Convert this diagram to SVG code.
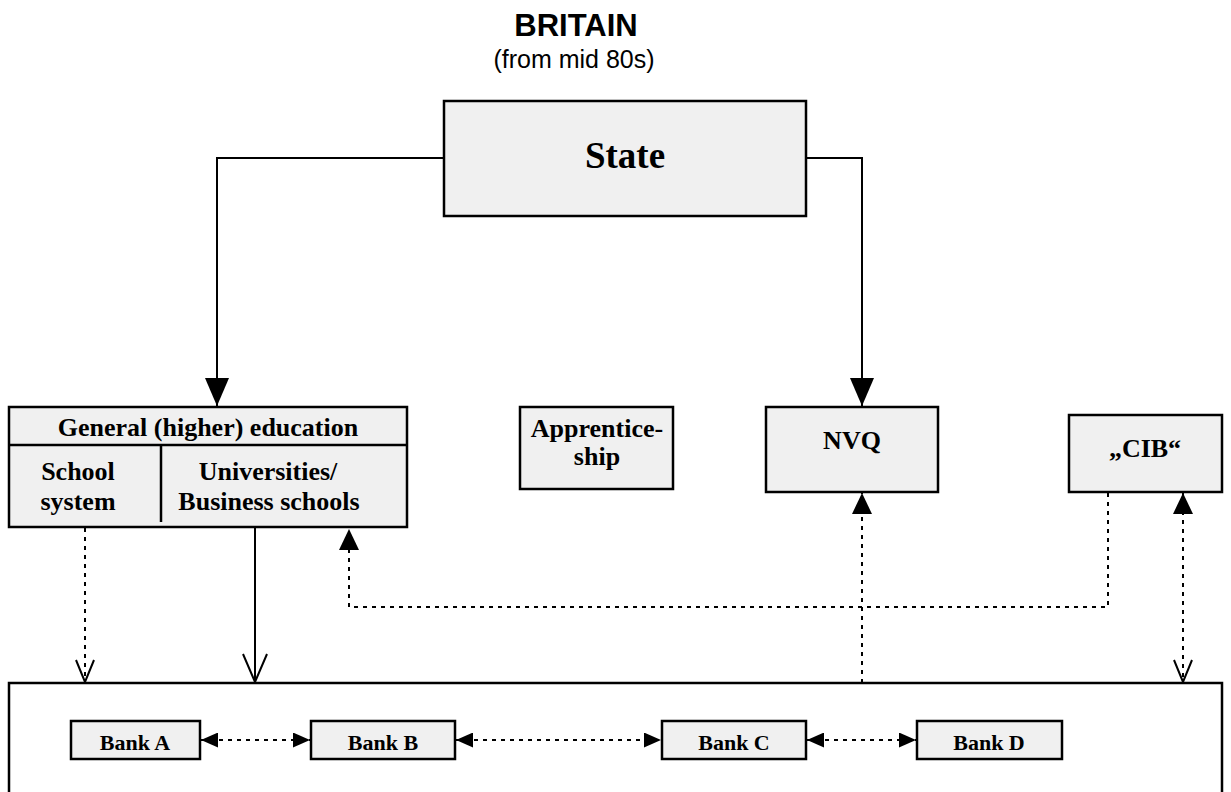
<svg xmlns="http://www.w3.org/2000/svg" width="1231" height="792" viewBox="0 0 1231 792">
<style>
.box{fill:#f0f0f0;stroke:#000;stroke-width:2.5}
.frame{fill:#fff;stroke:#000;stroke-width:2.5}
.t{font-family:"Liberation Serif","Times New Roman",serif;font-weight:bold;font-size:26px;text-anchor:middle;fill:#000}
.bk{font-size:22px}
.big{font-size:37px}
.solid{fill:none;stroke:#000;stroke-width:2}
.dot{fill:none;stroke:#000;stroke-width:2;stroke-dasharray:4 5}
.h{font-family:"Liberation Sans",Arial,sans-serif;text-anchor:middle;fill:#000}
</style>
<defs>
<marker id="bigFill" markerUnits="userSpaceOnUse" markerWidth="30" markerHeight="24" viewBox="0 0 28 24" refX="28" refY="12" orient="auto"><path d="M0,0 L28,12 L0,24 z" fill="#000"/></marker>
<marker id="fill" markerUnits="userSpaceOnUse" markerWidth="22" markerHeight="20" viewBox="0 0 21 20" refX="21" refY="10" orient="auto"><path d="M0,0 L21,10 L0,20 z" fill="#000"/></marker>
<marker id="fillStart" markerUnits="userSpaceOnUse" markerWidth="22" markerHeight="20" viewBox="0 0 21 20" refX="0" refY="10" orient="auto"><path d="M21,0 L0,10 L21,20 z" fill="#000"/></marker>
<marker id="small" markerUnits="userSpaceOnUse" markerWidth="18" markerHeight="15" viewBox="0 0 17 15" refX="17" refY="7.5" orient="auto"><path d="M0,0 L17,7.5 L0,15 z" fill="#000"/></marker>
<marker id="smallStart" markerUnits="userSpaceOnUse" markerWidth="18" markerHeight="15" viewBox="0 0 17 15" refX="0" refY="7.5" orient="auto"><path d="M17,0 L0,7.5 L17,15 z" fill="#000"/></marker>
<marker id="openV" markerUnits="userSpaceOnUse" markerWidth="26" markerHeight="22" viewBox="-2 -2 26 22" refX="22" refY="9" orient="auto"><path d="M0,0 L22,9 L0,18" fill="none" stroke="#000" stroke-width="2"/></marker>
<marker id="openVBig" markerUnits="userSpaceOnUse" markerWidth="32" markerHeight="28" viewBox="-2 -2 32 28" refX="28" refY="12" orient="auto"><path d="M0,0 L28,12 L0,24" fill="none" stroke="#000" stroke-width="2"/></marker>
</defs>

<g id="title">
<text class="h" x="576" y="36" font-size="31" font-weight="bold">BRITAIN</text>
<text class="h" x="574" y="68" font-size="25">(from mid 80s)</text>
</g>

<g id="banks-frame">
<rect class="frame" x="9" y="683" width="1213" height="200"/>
</g>

<g id="connectors">
<path class="solid" d="M444,158 H217 V406" marker-end="url(#bigFill)"/>
<path class="solid" d="M806,158 H862 V406" marker-end="url(#bigFill)"/>
<path class="dot" d="M85,528 V682" marker-end="url(#openV)"/>
<path class="solid" d="M255,528 V682" marker-end="url(#openVBig)"/>
<path class="dot" d="M862,683 V493" marker-end="url(#fill)"/>
<path class="dot" d="M1108,493 V607 H349 V529" marker-end="url(#fill)"/>
<path class="dot" d="M1183,493 V682" marker-start="url(#fillStart)" marker-end="url(#openV)"/>
<path class="dot" d="M201,740 H310" marker-start="url(#smallStart)" marker-end="url(#small)"/>
<path class="dot" d="M456,740 H661" marker-start="url(#smallStart)" marker-end="url(#small)"/>
<path class="dot" d="M807,740 H916" marker-start="url(#smallStart)" marker-end="url(#small)"/>
</g>

<g id="state">
<rect class="box" x="444" y="101" width="362" height="115"/>
<text class="t big" x="625" y="168">State</text>
</g>

<g id="general-education">
<rect class="box" x="9" y="407" width="398" height="120"/>
<line x1="9" y1="445" x2="407" y2="445" stroke="#000" stroke-width="2.5"/>
<line x1="161" y1="445" x2="161" y2="522" stroke="#000" stroke-width="2.5"/>
<text class="t" x="208" y="436">General (higher) education</text>
<text class="t" x="78" y="480">School</text>
<text class="t" x="78" y="510">system</text>
<text class="t" x="268" y="480">Universities/</text>
<text class="t" x="269" y="510">Business schools</text>
</g>

<g id="apprenticeship">
<rect class="box" x="520" y="407" width="153" height="82"/>
<text class="t" x="597" y="437">Apprentice-</text>
<text class="t" x="597" y="465">ship</text>
</g>

<g id="nvq">
<rect class="box" x="766" y="407" width="172" height="85"/>
<text class="t" x="852" y="449">NVQ</text>
</g>

<g id="cib">
<rect class="box" x="1069" y="415" width="153" height="77"/>
<text class="t" x="1145" y="457">„CIB“</text>
</g>

<g id="bank-a">
<rect class="box" x="71" y="721" width="129" height="38"/>
<text class="t bk" x="135" y="750">Bank A</text>
</g>
<g id="bank-b">
<rect class="box" x="311" y="721" width="144" height="38"/>
<text class="t bk" x="383" y="750">Bank B</text>
</g>
<g id="bank-c">
<rect class="box" x="662" y="721" width="144" height="38"/>
<text class="t bk" x="734" y="750">Bank C</text>
</g>
<g id="bank-d">
<rect class="box" x="917" y="721" width="145" height="38"/>
<text class="t bk" x="989" y="750">Bank D</text>
</g>
</svg>
